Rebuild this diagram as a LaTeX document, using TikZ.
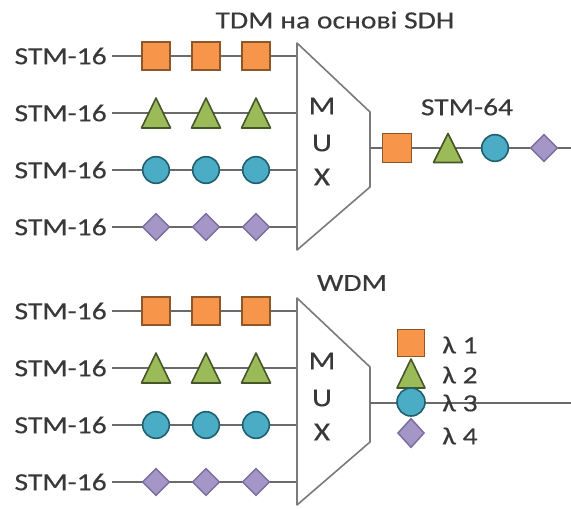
\documentclass[tikz,border=0pt]{standalone}
\usepackage{fontspec}
\setmainfont[FakeStretch=1.2,FakeBold=0.35]{Carlito}
\usetikzlibrary{shapes.geometric}
\definecolor{txt}{HTML}{383838}
\definecolor{wirec}{HTML}{6A6A6A}
\definecolor{muxc}{HTML}{7A7A7A}
\definecolor{orF}{HTML}{F7964A}
\definecolor{orD}{HTML}{8F5629}
\definecolor{grF}{HTML}{9BBB59}
\definecolor{grD}{HTML}{46552A}
\definecolor{blF}{HTML}{4BACC6}
\definecolor{blD}{HTML}{1F5F6E}
\definecolor{puF}{HTML}{A497C8}
\definecolor{puD}{HTML}{7A6E9C}
\begin{document}
\begin{tikzpicture}[x=0.75pt,y=-0.75pt,
  every node/.style={font=\fontsize{18.5}{20}\selectfont, text=txt},
  wire/.style={draw=wirec, line width=1.4pt},
  muxline/.style={draw=muxc, line width=1.2pt, line join=round},
  lbl/.style={anchor=east, inner xsep=3.75pt, inner ysep=0pt},
  sq/.style={rectangle, draw=orD, fill=orF, line width=1.2pt, minimum size=21pt, inner sep=0pt},
  tri/.style={draw=grD, fill=grF, line width=1.2pt, line join=round},
  circ/.style={circle, draw=blD, fill=blF, line width=1.2pt, minimum size=20pt, inner sep=0pt},
  dia/.style={diamond, draw=puD, fill=puF, line width=1.1pt, minimum width=20.5pt, minimum height=20.5pt, inner sep=0pt},
  muxtxt/.style={inner sep=0pt, font=\fontsize{19.5}{21}\selectfont}]
\useasboundingbox (0,0) rectangle (571,508);

% two multiplexer blocks
\foreach \o/\n in {0/t,255/b} {
  % input rows
  \foreach \y/\r in {56/1,113/2,170/3,227/4} {
    \node[lbl] (L\n\r) at (112,\y+\o) {STM-16};
    \coordinate (M\n\r) at (297,\y+\o);
    \draw[wire] (L\n\r) -- (M\n\r);
  }
  % shapes on the input rows
  \foreach \x/\k in {156/1,206/2,256/3} {
    \node[sq] (S\n\k) at (\x,56+\o) {};
    \draw[tri] (\x-14.5,128+\o) -- (\x+14.5,128+\o) -- (\x,98+\o) -- cycle;
    \coordinate (T\n\k) at (\x,113+\o);
    \node[circ] (C\n\k) at (\x,170+\o) {};
    \node[dia] (D\n\k) at (\x,227+\o) {};
  }
  % MUX trapezium
  \draw[muxline] (297,43+\o) -- (370,112+\o) -- (370,187+\o) -- (297,250+\o) -- cycle;
  \node[muxtxt] (mm\n) at (322,106+\o) {M};
  \node[muxtxt] (mu\n) at (322,143+\o) {U};
  \node[muxtxt] (mx\n) at (322,177+\o) {X};
  \coordinate (O\n) at (370,148+\o);
  \coordinate (E\n) at (571,148+\o);
  \draw[wire] (O\n) -- (E\n);
}

% titles
\node (title1) at (335,20) {TDM на основі SDH};
\node (title2) at (352,283) {WDM};
\node (stm64) at (467,107) {STM-64};

% TDM output stream
\node[sq, minimum size=21.5pt] (os) at (397,148) {};
\draw[tri] (448-14.5,162.5) -- (448+14.5,162.5) -- (448,133.5) -- cycle;
\coordinate (ot) at (448,148);
\node[circ] (oc) at (495,148) {};
\node[dia] (od) at (544,148) {};

% WDM legend
\node[sq, minimum size=20.5pt] (ws) at (411,343) {};
\draw[tri] (411-14,388) -- (411+14,388) -- (411,359) -- cycle;
\coordinate (wt) at (411,374);
\node[circ, minimum size=21pt] (wc) at (411,402) {};
\node[dia, minimum width=20pt, minimum height=22pt] (wd) at (411,433) {};

\node[anchor=west, inner sep=0pt] (l1) at (442,345) {λ 1};
\node[anchor=west, inner sep=0pt] (l2) at (442,375) {λ 2};
\node[anchor=west, inner sep=0pt] (l3) at (442,403) {λ 3};
\node[anchor=west, inner sep=0pt] (l4) at (442,436) {λ 4};
\end{tikzpicture}
\end{document}
